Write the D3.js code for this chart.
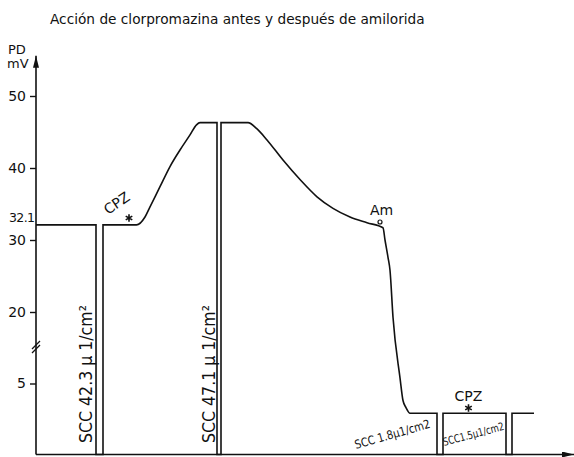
<!DOCTYPE html>
<meta charset="utf-8">
<script src="https://d3js.org/d3.v7.min.js"></script>
<style>
  body { margin: 0; background: #fff; }
  text { font-family: "DejaVu Sans", sans-serif; fill: #111; }
</style>
<div id="my_dataviz"></div>
<script>

// time in arbitrary units (no ticks on the x axis), PD in mV
var timeMin = [0, 12, 12, 13.4, 13.4, 20.1, 21.8, 22.8, 24.8, 26.8, 28.8, 30.8, 32.1, 32.8, 36.2, 36.2, 37, 37,
               42.4, 44.1, 46.2, 49.4, 52.8, 56.2, 59.4, 62.8, 66.2, 69.4, 69.8, 70.4, 70.8,
               71.4, 72.8, 73.4, 74.0, 74.8, 80.2, 80.2, 81.4, 81.4, 94, 94, 95.2, 95.2, 99.6];
var pdMv    = [32.1, 32.1, 0, 0, 32.1, 32.1, 33.2, 34.6, 37.4, 40.2, 42.5, 44.6, 46.0, 46.3, 46.3, 0, 0, 46.3,
               46.3, 45.5, 43.9, 41.1, 38.4, 36.0, 34.4, 33.2, 32.4, 31.7, 30.0, 27.6, 25.8,
               18.9, 6.2, 3.8, 3.3, 2.9, 2.9, 0, 0, 2.9, 2.9, 0, 0, 2.9, 2.9];

var tickVals = [5, 20, 30, 40, 50];
var tickLabels = ["5", "20", "30", "40", "50"];

var sccLabels = ["SCC 42.3 μ 1/cm²", "SCC 47.1 μ 1/cm²", "SCC 1.8μ1/cm2", "SCC1.5μ1/cm2"];
var sccTime   = [12, 36.2, 80.2, 94];
var cpzTime   = [19.8, 86.5];
var amTime    = 69.4;

var width = 574, height = 457;
var margin = {left: 36, bottom: 2.5};

var svg = d3.select("#my_dataviz")
  .append("svg")
    .attr("width", width)
    .attr("height", height);

// x: 5 px per unit
var x = d3.scaleLinear().domain([0, 107.6]).range([margin.left, width]);
// y: broken axis, lower part stretched
var y = d3.scaleLinear()
  .domain([0, 5, 20, 50])
  .range([height - margin.bottom, 383.5, 312, 96]);

// title
svg.append("text")
  .attr("x", 50).attr("y", 24)
  .style("font-size", "13.7px")
  .text("Acción de clorpromazina antes y después de amilorida");

// arrow heads
var defs = svg.append("defs");
defs.append("marker")
  .attr("id", "arrow")
  .attr("viewBox", "0 0 12 6")
  .attr("refX", 12).attr("refY", 3)
  .attr("markerWidth", 12).attr("markerHeight", 6)
  .attr("markerUnits", "userSpaceOnUse")
  .attr("orient", "auto")
  .append("path").attr("d", "M0,0L12,3L0,6Z").attr("fill", "#111");

// y axis
svg.append("line")
  .attr("x1", x(0)).attr("x2", x(0))
  .attr("y1", y(0)).attr("y2", y(55.6))
  .attr("stroke", "#111").attr("stroke-width", 1.6)
  .attr("marker-end", "url(#arrow)");

// x axis
svg.append("line")
  .attr("x1", x(0)).attr("x2", x(107.6))
  .attr("y1", y(0)).attr("y2", y(0))
  .attr("stroke", "#111").attr("stroke-width", 1.6)
  .attr("marker-end", "url(#arrow)");

var yAxis = d3.axisLeft(y)
  .tickValues(tickVals)
  .tickFormat(function(d, i) { return tickLabels[i]; })
  .tickSize(6).tickPadding(4);
var gy = svg.append("g")
  .attr("transform", "translate(" + x(0) + ",0)")
  .call(yAxis);
gy.select(".domain").remove();
gy.selectAll(".tick line").attr("stroke", "#111").attr("stroke-width", 1.4);
gy.selectAll(".tick text").style("font-size", "14px").attr("fill", "#111")
  .style("font-family", "DejaVu Sans");

// axis break
[0, 4].forEach(function(o) {
  svg.append("line")
    .attr("x1", x(0) - 4).attr("y1", 353 - o)
    .attr("x2", x(0) + 4).attr("y2", 345 - o)
    .attr("stroke", "#111").attr("stroke-width", 1.3);
});

svg.append("text").attr("x", 8).attr("y", 54).style("font-size", "13px").text("PD");
svg.append("text").attr("x", 7).attr("y", 68).style("font-size", "13px").text("mV");
svg.append("text").attr("x", 9).attr("y", 222).style("font-size", "12.5px")
  .attr("letter-spacing", "-0.6").text("32.1");

// trace: smooth runs joined by vertical drops
var pts = timeMin.map(function(t, i) { return [x(t), y(pdMv[i])]; });
var runs = [], cur = [pts[0]];
for (var i = 1; i < pts.length; i++) {
  if (pts[i][0] === pts[i - 1][0]) { runs.push(cur); cur = [pts[i]]; }
  else cur.push(pts[i]);
}
runs.push(cur);
var lineGen = d3.line().curve(d3.curveMonotoneX);
var dStr = runs.map(function(r, i) {
  var s = lineGen(r);
  return i ? "L" + s.slice(1) : s;
}).join("");
svg.append("path")
  .attr("d", dStr)
  .attr("fill", "none")
  .attr("stroke", "#111")
  .attr("stroke-width", 1.6)
  .attr("stroke-linejoin", "miter");

// SCC labels
svg.append("text")
  .attr("transform", "translate(" + (x(sccTime[0]) - 4) + ",443) rotate(-90)")
  .style("font-size", "17px")
  .attr("textLength", 138).attr("lengthAdjust", "spacingAndGlyphs")
  .text(sccLabels[0]);
svg.append("text")
  .attr("transform", "translate(" + (x(sccTime[1]) - 2.5) + ",443) rotate(-90)")
  .style("font-size", "17px")
  .attr("textLength", 138).attr("lengthAdjust", "spacingAndGlyphs")
  .text(sccLabels[1]);
svg.append("text")
  .attr("transform", "translate(356,449) rotate(-16)")
  .style("font-size", "12px")
  .attr("textLength", 78).attr("lengthAdjust", "spacingAndGlyphs")
  .text(sccLabels[2]);
svg.append("text")
  .attr("transform", "translate(444,446) rotate(-15)")
  .style("font-size", "11px")
  .attr("textLength", 63).attr("lengthAdjust", "spacingAndGlyphs")
  .text(sccLabels[3]);

// CPZ markers
var star = d3.symbol(d3.symbolAsterisk, 40);
svg.append("text")
  .attr("transform", "translate(" + (x(cpzTime[0]) - 27) + ",215) rotate(-34)")
  .style("font-size", "14px")
  .text("CPZ");
svg.append("path")
  .attr("d", star())
  .attr("transform", "translate(" + (x(cpzTime[0]) - 6) + ",218)")
  .attr("stroke", "#111").attr("stroke-width", 1.6).attr("fill", "none");
svg.append("text")
  .attr("x", x(cpzTime[1])).attr("y", 401)
  .attr("text-anchor", "middle")
  .style("font-size", "14px")
  .text("CPZ");
svg.append("path")
  .attr("d", star())
  .attr("transform", "translate(" + x(cpzTime[1]) + ",408)")
  .attr("stroke", "#111").attr("stroke-width", 1.6).attr("fill", "none");

// amiloride marker
svg.append("text")
  .attr("x", x(amTime) - 13).attr("y", 215)
  .style("font-size", "14px")
  .text("Am");
svg.append("circle")
  .attr("cx", x(amTime) - 3).attr("cy", 222).attr("r", 2)
  .attr("fill", "#fff").attr("stroke", "#111").attr("stroke-width", 1.2);

</script>
